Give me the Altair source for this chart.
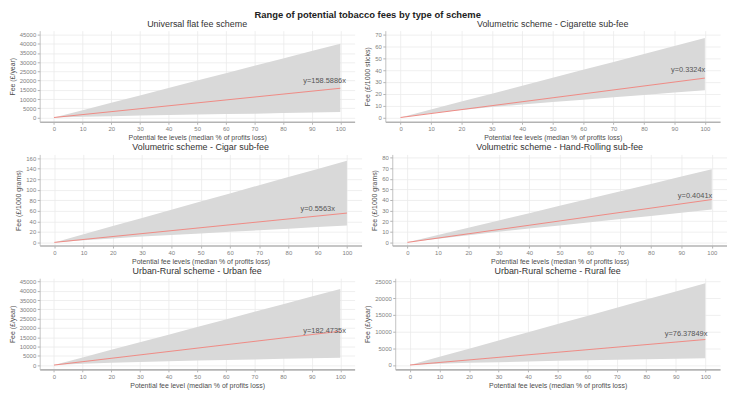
import altair as alt
import pandas as pd

FONT = "Liberation Sans"

x_levels = [0, 10, 20, 30, 40, 50, 60, 70, 80, 90, 100]

titles = [
    "Universal flat fee scheme",
    "Volumetric scheme - Cigarette sub-fee",
    "Volumetric scheme -  Cigar sub-fee",
    "Volumetric scheme - Hand-Rolling sub-fee",
    "Urban-Rural scheme - Urban fee",
    "Urban-Rural scheme - Rural fee",
]
y_titles = ["Fee (£/year)", "Fee (£/1000 sticks)", "Fee (£/1000 grams)",
            "Fee (£/1000 grams)", "Fee (£/year)", "Fee (£/year)"]
x_titles = ["Potential fee levels (median % of profits loss)"] * 4 + [
    "Potential fee level (median % of profits loss)",
    "Potential fee levels (median % of profits loss)"]
labels = ["y=158.5886x", "y=0.3324x", "y=0.5563x", "y=0.4041x", "y=182.4735x", "y=76.37849x"]

# central line end values (at x=0 and x=100)
mid_ends = [[0, 15858.86], [0, 33.24], [0, 55.63], [0, 40.41], [0, 18247.35], [0, 7637.849]]

upper = [
    [0, 4000, 8000, 12000, 16000, 20000, 24000, 28000, 32000, 36000, 40000],
    [0, 6.7, 13.4, 20.1, 26.8, 33.5, 40.2, 46.9, 53.6, 60.3, 67],
    [0, 15.5, 31, 46.5, 62, 77.5, 93, 108.5, 124, 139.5, 155],
    [0, 6.9, 13.8, 20.7, 27.6, 34.5, 41.4, 48.3, 55.2, 62.1, 69],
    [0, 4100, 8200, 12300, 16400, 20500, 24600, 28700, 32800, 36900, 41000],
    [0, 2450, 4900, 7350, 9800, 12250, 14700, 17150, 19600, 22050, 24500],
]
lower = [
    [0, 450, 750, 1050, 1300, 1600, 1850, 2100, 2400, 2700, 3000],
    [0, 3.5, 6.3, 8.8, 11, 13, 15, 17, 19, 21, 23],
    [0, 4, 7.5, 11, 14, 17, 20, 23, 26, 29, 32],
    [0, 3.5, 6.8, 10, 13, 16, 19, 22, 25, 28, 31],
    [0, 700, 1200, 1600, 2000, 2400, 2700, 3050, 3350, 3700, 4000],
    [0, 400, 650, 850, 1050, 1250, 1400, 1550, 1700, 1850, 2000],
]
y_ticks = [
    list(range(0, 45001, 5000)),
    list(range(0, 71, 10)),
    list(range(0, 161, 20)),
    list(range(0, 81, 10)),
    list(range(0, 45001, 5000)),
    list(range(0, 25001, 5000)),
]
y_domains = [[-2300, 47100], [-3.6, 73.3], [-6, 167], [-3, 83], [-2300, 46800], [-1300, 26000]]
label_x = [94.5, 94.5, 90, 94.5, 94.5, 93.5]
label_y = [18500, 38, 59, 42, 17300, 8750]
x_ticks = list(range(0, 101, 10))

widths = [318, 338, 325, 338, 318, 328]
H = 92


def panel(i):
    band = pd.DataFrame({"x": x_levels, "lo": lower[i], "hi": upper[i]})
    mid = pd.DataFrame({"x": [0, 100], "y": mid_ends[i]})
    lab = pd.DataFrame({"x": [label_x[i]], "y": [label_y[i]], "t": [labels[i]]})
    xs = alt.Scale(domain=[-5, 105], nice=False, zero=False)
    ys = alt.Scale(domain=y_domains[i], nice=False, zero=False)
    xax = alt.Axis(values=x_ticks, title=x_titles[i], grid=True, format="d",
                   labelOverlap=False, labelFlush=False, tickCount=11)
    yax = alt.Axis(values=y_ticks[i], title=y_titles[i], grid=True, format="d",
                   labelOverlap=False, labelFlush=False, tickCount=len(y_ticks[i]))
    area = alt.Chart(band).mark_area(color="#d9d9d9", opacity=1).encode(
        x=alt.X("x:Q", scale=xs, axis=xax),
        y=alt.Y("hi:Q", scale=ys, axis=yax),
        y2="lo:Q",
    )
    line = alt.Chart(mid).mark_line(color="#ef8a84", strokeWidth=1).encode(
        x=alt.X("x:Q", scale=xs, axis=xax), y=alt.Y("y:Q", scale=ys, axis=yax)
    )
    text = alt.Chart(lab).mark_text(
        font=FONT, fontSize=7.5, color="#555555", align="center", baseline="alphabetic"
    ).encode(x=alt.X("x:Q", scale=xs, axis=xax), y=alt.Y("y:Q", scale=ys, axis=yax), text="t:N")
    return alt.layer(area, line, text).properties(
        width=widths[i], height=H,
        title=alt.TitleParams(titles[i], fontSize=9, font=FONT, fontWeight="normal",
                              color="#333333", anchor="middle", frame="group", offset=2),
    )


rows = []
for r in range(3):
    rows.append(alt.hconcat(panel(2 * r), panel(2 * r + 1), spacing=9))

chart = alt.vconcat(*rows, spacing=3).properties(
    title=alt.TitleParams("Range of potential tobacco fees by type of scheme", fontSize=9.5,
                          font=FONT, fontWeight="bold", color="#222222", anchor="middle", offset=0),
    padding=0,
).configure_view(stroke=None).configure_axis(
    labelFont=FONT, titleFont=FONT, labelFontSize=6, titleFontSize=7,
    labelColor="#808080", titleColor="#4d4d4d", titleFontWeight="normal",
    gridColor="#ebebeb", gridWidth=0.8, domainColor="#b3b3b3", tickColor="#b3b3b3",
    tickSize=2.5, labelPadding=1.5, titlePadding=3, minExtent=0,
).configure_axisX(domainWidth=1.6, titlePadding=2, minExtent=0).configure_axisY(
    domainWidth=0.8, titlePadding=4, minExtent=0)

chart.save("out.html", embed_options={"renderer": "svg", "actions": False})
